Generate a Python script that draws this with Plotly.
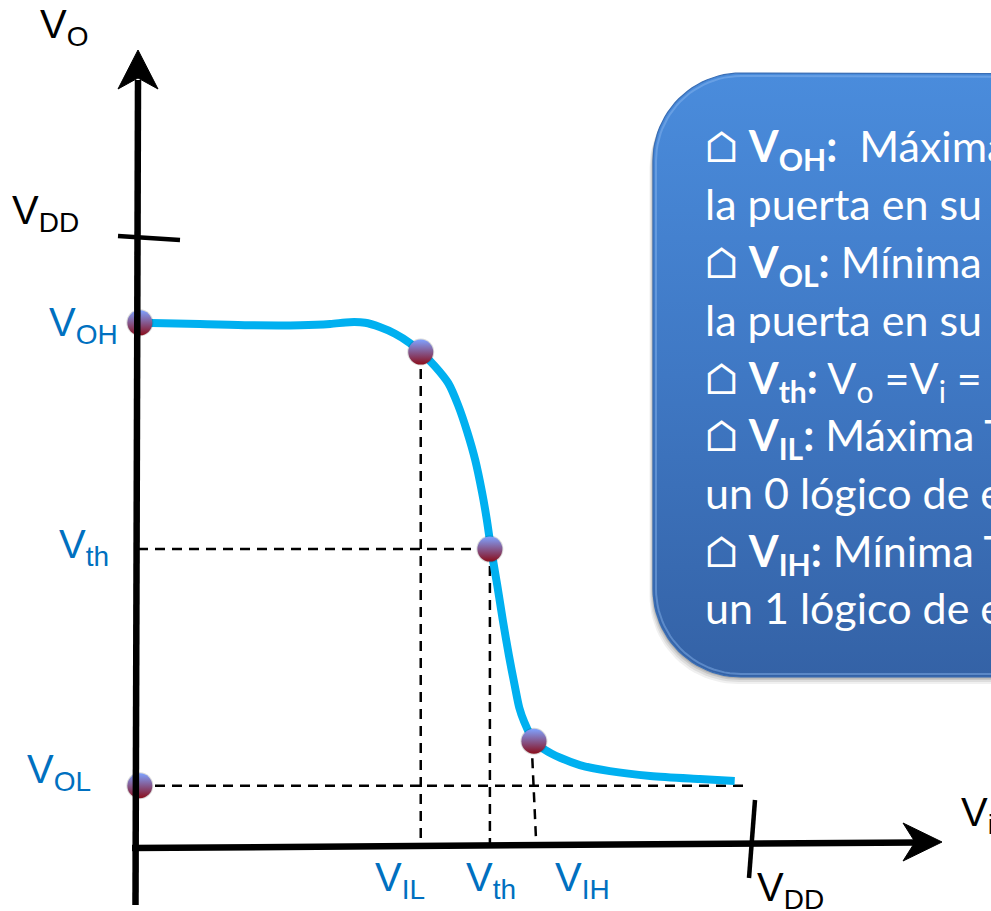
import math
import plotly.graph_objects as go

# ---------------- data (voltages, VDD = 1) ----------------
VDD = 1.0
curve_vi = [0.003, 0.101, 0.183, 0.265, 0.314, 0.346, 0.371, 0.395, 0.420, 0.444,
            0.462, 0.485, 0.507, 0.523, 0.538, 0.551, 0.562, 0.570, 0.577, 0.587,
            0.596, 0.606, 0.616, 0.623, 0.631, 0.647, 0.665, 0.690, 0.722, 0.771,
            0.837, 0.918, 0.975]
curve_vo = [0.861, 0.859, 0.857, 0.857, 0.859, 0.862, 0.861, 0.854, 0.843, 0.828,
            0.813, 0.790, 0.762, 0.726, 0.682, 0.636, 0.584, 0.538, 0.490, 0.431,
            0.374, 0.316, 0.264, 0.230, 0.207, 0.175, 0.161, 0.148, 0.136, 0.126,
            0.118, 0.113, 0.110]

point_names = ["VOH", "VIL", "Vth", "VIH", "VOL"]
point_vi = [0.003, 0.462, 0.575, 0.647, 0.003]
point_vo = [0.861, 0.813, 0.490, 0.175, 0.102]

VIL_in, VIL_out = point_vi[1], point_vo[1]
VTH_in, VTH_out = point_vi[2], point_vo[2]
VIH_in, VIH_out = point_vi[3], point_vo[3]
VOL = point_vo[4]

box_lines = [
    "⌂ <b>V<sub>OH</sub>:</b>\u00a0 Máxima Tensión",
    "la puerta en su",
    "⌂ <b>V<sub>OL</sub>:</b> Mínima Tensión",
    "la puerta en su",
    "⌂ <b>V<sub>th</sub>:</b> V<sub>o</sub> =V<sub>i</sub> = V<sub>th</sub>",
    "⌂ <b>V<sub>IL</sub>:</b> Máxima Tensión",
    "un 0 lógico de entrada",
    "⌂ <b>V<sub>IH</sub>:</b> Mínima Tensión",
    "un 1 lógico de entrada",
]

# ---------------- figure geometry ----------------
W, H = 991, 911
X0PX, X1PX = 138, 750      # pixel of Vi=0 and Vi=VDD
Y0PX, Y1PX = 848, 238      # pixel of Vo=0 and Vo=VDD
sx = (X1PX - X0PX)
sy = (Y0PX - Y1PX)
xrange_ = [-X0PX / sx, (W - X0PX) / sx]
yrange_ = [-(H - Y0PX) / sy, Y0PX / sy]

BLUE = "#0070C0"
CYAN = "#00B0F0"

fig = go.Figure()

# dashed guide lines
gx = [0, VTH_in, None, 0, VDD, None, VIL_in, VIL_in, None, VTH_in, VTH_in, None, VIH_in - 0.004, VIH_in + 0.004]
gy = [VTH_out, VTH_out, None, VOL, VOL, None, VIL_out, 0, None, VTH_out, 0, None, VIH_out, 0]
fig.add_trace(go.Scatter(x=gx, y=gy, mode="lines",
                         line=dict(color="black", width=2.5, dash="10px,7px"),
                         hoverinfo="skip", showlegend=False))

# transfer curve
fig.add_trace(go.Scatter(x=curve_vi, y=curve_vo, mode="lines",
                         line=dict(color=CYAN, width=8, shape="spline", smoothing=0.8),
                         hoverinfo="skip", showlegend=False))

# rounded callout box (pixel coordinates on overlay axes)
def rounded_rect(x0, y0, x1, y1, r, n=24):
    xs, ys = [], []
    corners = [(x0 + r, y0 + r, 180, 270), (x1 - r, y0 + r, 270, 360),
               (x1 - r, y1 - r, 0, 90), (x0 + r, y1 - r, 90, 180)]
    for cx, cy, a0, a1 in corners:
        for i in range(n + 1):
            a = math.radians(a0 + (a1 - a0) * i / n)
            xs.append(cx + r * math.cos(a))
            ys.append(cy + r * math.sin(a))
    xs.append(xs[0]); ys.append(ys[0])
    return xs, ys

BX0, BY0, BX1, BY1, BR = 653, 73, 1100, 677, 88
for off, alpha in [(7, 0.06), (5, 0.08), (3, 0.10), (1.5, 0.12)]:
    sxs, sys_ = rounded_rect(BX0 - off * 0.5, BY0 + off, BX1, BY1 + off, BR)
    fig.add_trace(go.Scatter(x=sxs, y=sys_, xaxis="x2", yaxis="y2", mode="lines",
                             fill="toself", fillcolor=f"rgba(0,0,0,{alpha})",
                             line=dict(width=0), hoverinfo="skip", showlegend=False))
bxs, bys = rounded_rect(BX0, BY0, BX1, BY1, BR)
fig.add_trace(go.Scatter(x=bxs, y=bys, xaxis="x2", yaxis="y2", mode="lines",
                         fill="toself",
                         fillgradient=dict(type="vertical",
                                           colorscale=[[0, "#4A8CDC"], [0.5, "#3F78C4"], [1, "#3462A6"]],
                                           start=BY0, stop=BY1),
                         line=dict(color="#3A6EB5", width=1.2),
                         hoverinfo="skip", showlegend=False))
# bevel highlight
hxs, hys = rounded_rect(BX0 + 3, BY0 + 3, BX1, BY1 - 3, BR - 3)
fig.add_trace(go.Scatter(x=hxs, y=hys, xaxis="x2", yaxis="y2", mode="lines",
                         line=dict(color="rgba(140,185,240,0.45)", width=2),
                         hoverinfo="skip", showlegend=False))

# key points (spheres)
fig.add_trace(go.Scatter(x=point_vi, y=point_vo, mode="markers",
                         marker=dict(size=27, color="rgba(0,0,0,0.15)", line=dict(width=0)),
                         hoverinfo="skip", showlegend=False))
fig.add_trace(go.Scatter(x=point_vi, y=point_vo, mode="markers", text=point_names,
                         marker=dict(size=25, color="#7FA2FF",
                                     gradient=dict(type="vertical", color="#8A0E1C"),
                                     line=dict(width=0)),
                         hoverinfo="text", showlegend=False))

shapes = []
# axes lines
shapes.append(dict(type="line", xref="x2", yref="y2", x0=135.5, y0=905, x1=138, y1=80,
                   line=dict(color="black", width=6.5)))
shapes.append(dict(type="line", xref="x2", yref="y2", x0=132, y0=848, x1=918, y1=842.5,
                   line=dict(color="black", width=6.5)))
# arrowheads
shapes.append(dict(type="path", xref="x2", yref="y2",
                   path="M 138 50 L 158 89 L 138 78 L 118 89 Z",
                   fillcolor="black", line=dict(color="black", width=1)))
shapes.append(dict(type="path", xref="x2", yref="y2",
                   path="M 942 842 L 903 861 L 915 842 L 903 823 Z",
                   fillcolor="black", line=dict(color="black", width=1)))
# VDD ticks
shapes.append(dict(type="line", xref="x2", yref="y2", x0=118, y0=236, x1=180, y1=240,
                   line=dict(color="black", width=4.5)))
shapes.append(dict(type="line", xref="x2", yref="y2", x0=755, y0=800, x1=749, y1=878,
                   line=dict(color="black", width=4.5)))

annotations = []
LBL_FONT = "Liberation Sans, Arial, sans-serif"
def lbl(text, x, y, anchor, color):
    annotations.append(dict(text=text, x=x, y=y, xref="x2", yref="y2", xanchor=anchor,
                            yanchor="top", showarrow=False,
                            font=dict(family=LBL_FONT, size=40, color=color)))

lbl("V<sub>OH</sub>", 120, 298, "right", BLUE)
lbl("V<sub>th</sub>", 111, 520, "right", BLUE)
lbl("V<sub>OL</sub>", 93, 745, "right", BLUE)
lbl("V<sub>IL</sub>", 373, 853, "left", BLUE)
lbl("V<sub>th</sub>", 464, 853, "left", BLUE)
lbl("V<sub>IH</sub>", 553, 853, "left", BLUE)
lbl("V<sub>O</sub>", 38, 0, "left", "black")
lbl("V<sub>DD</sub>", 10, 186, "left", "black")
lbl("V<sub>DD</sub>", 755, 863, "left", "black")
lbl("V<sub>i</sub>", 959, 788, "left", "black")

BOX_FS = 43
baselines = [162, 220, 278, 336, 394, 451, 509, 567, 624]
for txt, b in zip(box_lines, baselines):
    annotations.append(dict(text=txt, x=703, y=b - BOX_FS - 1, xref="x2", yref="y2",
                            xanchor="left", yanchor="top", showarrow=False,
                            font=dict(family="Lato, Carlito, sans-serif", size=BOX_FS, color="white")))

fig.update_layout(
    width=W, height=H, autosize=False,
    margin=dict(l=0, r=0, t=0, b=0, pad=0),
    paper_bgcolor="white", plot_bgcolor="white",
    xaxis=dict(range=xrange_, visible=False, fixedrange=True),
    yaxis=dict(range=yrange_, visible=False, fixedrange=True),
    xaxis2=dict(range=[0, W], overlaying="x", anchor="y2", visible=False, fixedrange=True),
    yaxis2=dict(range=[H, 0], overlaying="y", anchor="x2", visible=False, fixedrange=True),
    shapes=shapes, annotations=annotations, showlegend=False,
)

fig.write_html("out.html", config={"displayModeBar": False},
               post_script="document.body.style.margin='0';document.body.style.overflow='hidden';")
